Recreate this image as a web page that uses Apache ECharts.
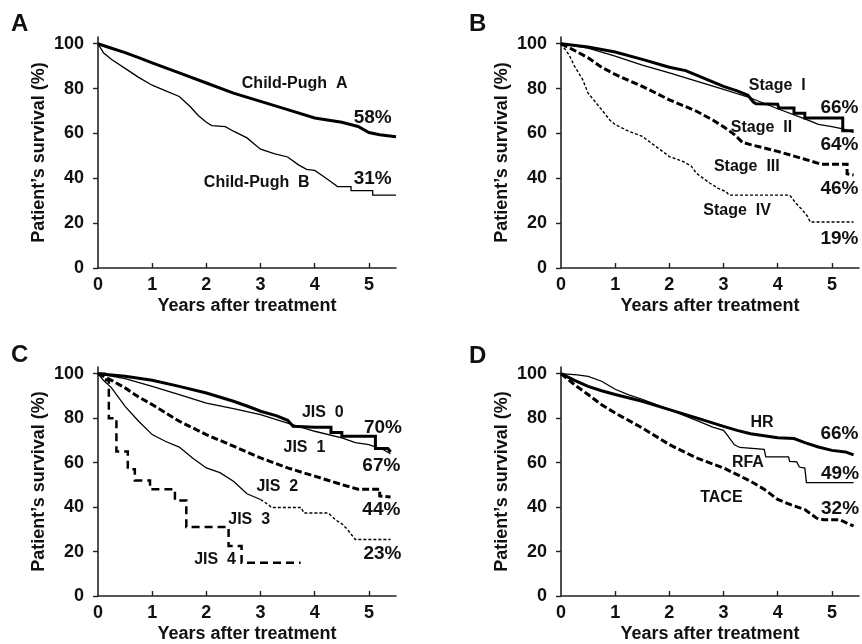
<!DOCTYPE html>
<html>
<head>
<meta charset="utf-8">
<script src="https://cdn.jsdelivr.net/npm/echarts@6/dist/echarts.min.js"></script>
<style>
  html, body { margin: 0; padding: 0; background: #fff; }
  #chart { width: 862px; height: 644px; }
</style>
</head>
<body>
<div id="chart"></div>
<script>
// tick values
const xTicks = [0, 1, 2, 3, 4, 5];
const yTicks = [0, 20, 40, 60, 80, 100];

// A: Child-Pugh
const childPughA = [[0,100],[0.25,98],[0.5,96],[0.75,93.8],[1,91.5],[1.5,87],[2,82.5],[2.5,78],[3,74.3],[3.5,70.6],[4,66.9],[4.5,65],[4.8,63.1],[5,60.4],[5.2,59.4],[5.5,58.5]];
const childPughB = [[0,100],[0.1,96],[0.25,93],[0.5,89],[0.75,85],[1,81.5],[1.25,79],[1.5,76.5],[1.7,72],[1.85,68],[2,65],[2.1,63.5],[2.35,63],[2.5,61],[2.75,58],[2.9,55],[3,53],[3.25,51],[3.5,49.5],[3.7,46],[3.85,44],[4,43.5],[4.15,41],[4.3,38.5],[4.42,36.3],[4.67,36.3],[4.67,34.5],[5.07,34.5],[5.07,32.5],[5.5,32.5]];

// B: Stage
const stageI = [[0,100],[0.5,98.5],[1,96.3],[1.5,93],[2,89.5],[2.3,88],[2.5,86],[2.8,83],[3,81],[3.25,79],[3.45,77],[3.55,74],[3.6,73.2],[4,73],[4.02,71.3],[4.3,71.3],[4.3,69],[4.5,69],[4.5,66.9],[5.2,66.9],[5.2,61.2],[5.4,61.2]];
const stageII = [[0,100],[0.5,98],[1,94.5],[1.5,90.5],[2,87],[2.5,83.3],[3,79.6],[3.5,75.8],[4,71],[4.5,66.5],[4.75,64],[5,63],[5.2,62],[5.4,60.5]];
const stageIII = [[0,100],[0.25,97],[0.5,93.7],[0.75,89.5],[1,86.3],[1.5,81],[2,75],[2.5,69.9],[2.8,66],[3,63],[3.2,59.5],[3.35,56],[3.5,55],[4,52],[4.5,48.5],[4.8,46.3],[5.28,46.3],[5.28,42],[5.4,41.5]];
const stageIV = [[0,100],[0.15,95],[0.25,90],[0.4,84],[0.5,78],[0.75,70.6],[0.9,66],[1,63.9],[1.25,61],[1.5,58.7],[1.75,54.2],[2,49.7],[2.25,47.5],[2.4,45.5],[2.5,42.2],[2.75,37.8],[2.9,35.5],[3.05,34],[3.1,32.5],[4.22,32.5],[4.35,28.5],[4.45,26],[4.55,23],[4.6,20.5],[5.4,20.5]];

// C: JIS score
const jis0 = [[0,100],[0.5,98.8],[1,97],[1.5,94.3],[2,91.3],[2.5,87.6],[2.8,85],[3,83.1],[3.3,81],[3.5,79],[3.6,76.3],[4,75.9],[4.3,75.9],[4.3,73.5],[4.5,73.5],[4.5,71.9],[5.12,71.9],[5.12,66.3],[5.35,66.3],[5.4,64.8]];
const jis1 = [[0,100],[0.5,97.8],[1,94.3],[1.5,90.6],[2,86.8],[2.5,84.3],[3,81.6],[3.5,77.8],[4,74.1],[4.5,71.1],[4.75,69],[5,68.1],[5.25,66],[5.4,64]];
const jis2 = [[0,100],[0.25,97],[0.5,93.6],[0.75,89.5],[1,86.1],[1.5,78.6],[2,72.6],[2.5,67.4],[3,62.1],[3.5,57.6],[4,53.9],[4.5,50.1],[4.8,48],[5.2,48],[5.2,45],[5.4,44.5]];
const jis3Early = [[0,100],[0.1,97],[0.25,93.6],[0.5,85.3],[0.75,78.6],[1,72.6],[1.25,69.5],[1.5,67],[1.75,62],[2,57.6],[2.25,55.5],[2.5,51.6],[2.75,46],[3,43.4]];
const jis3Late = [[3,43.4],[3.15,41],[3.2,39.8],[3.75,39.8],[3.8,37.3],[4.25,37.3],[4.4,34],[4.5,32.5],[4.6,30],[4.75,25.4],[5.4,25.4]];
const jis4 = [[0,100],[0.15,100],[0.15,97],[0.2,97],[0.2,80],[0.34,80],[0.34,65],[0.55,65],[0.55,57],[0.68,57],[0.68,52],[0.96,52],[0.96,48],[1.42,48],[1.42,43],[1.63,43],[1.63,31],[2.41,31],[2.41,22.5],[2.65,22.5],[2.65,15],[3.74,15]];

// D: treatment
const hr = [[0,100],[0.25,97],[0.5,94.3],[0.75,92.3],[1,90.6],[1.5,87.6],[2,83.8],[2.5,80.1],[3,76.3],[3.25,74.5],[3.5,73],[4,71.2],[4.3,70.8],[4.5,69],[4.75,67],[5,65.5],[5.25,64.8],[5.4,63.5]];
const rfa = [[0,100],[0.3,99.5],[0.5,98.8],[0.75,96.6],[1,93],[1.25,90.5],[1.5,88.5],[2,83.8],[2.5,79],[2.8,76],[3,74.5],[3.08,72],[3.2,68],[3.3,66.8],[3.75,66],[3.78,62.6],[4.2,62.6],[4.22,60.5],[4.35,60.3],[4.4,58],[4.5,57.5],[4.53,51],[5.4,51]];
const tace = [[0,100],[0.25,95],[0.5,90.6],[0.75,86],[1,82.3],[1.5,75.6],[2,68.1],[2.5,62.1],[3,57.6],[3.5,51.6],[3.75,48],[4,43.4],[4.25,41],[4.5,38.9],[4.72,35],[4.85,34.3],[5.15,34.3],[5.3,32.5],[5.4,31.5]];

// curve labels, placed in data coordinates
const labelsA = [['Child-Pugh  A', 3.63, 82.1], ['58%', 5.07, 67.2], ['Child-Pugh  B', 2.93, 37.9], ['31%', 5.07, 39.6]];
const labelsB = [['Stage  I', 3.99, 81.3], ['66%', 5.14, 71.6], ['Stage  II', 3.7, 62.7], ['64%', 5.14, 54.9], ['Stage  III', 3.43, 45.2], ['46%', 5.14, 35.5], ['Stage  IV', 3.25, 25.8], ['19%', 5.14, 13.1]];
const labelsC = [['JIS  0', 4.15, 82.6], ['70%', 5.26, 75.6], ['JIS  1', 3.81, 66.8], ['67%', 5.23, 58.8], ['JIS  2', 3.31, 49.4], ['44%', 5.23, 38.9], ['JIS  3', 2.79, 34.4], ['23%', 5.25, 19.2], ['JIS  4', 2.16, 16.2]];
const labelsD = [['HR', 3.71, 77.8], ['66%', 5.14, 72.8], ['RFA', 3.45, 60.2], ['49%', 5.15, 54.8], ['TACE', 2.96, 44.3], ['32%', 5.15, 39.2]];

const FONT = '"Liberation Sans", Arial, sans-serif';
const thick = { width: 3, type: 'solid' };
const thin = { width: 1.3, type: 'solid' };
const thickDash = { width: 3, type: [7, 3] };
const thinDot = { width: 1.4, type: [3, 2] };
const jis4Dash = { width: 2.5, type: [8, 5] };

const panels = [
  { letter: 'A', labels: labelsA, curves: [[childPughA, thick], [childPughB, thin]] },
  { letter: 'B', labels: labelsB, curves: [[stageI, thick], [stageII, thin], [stageIII, thickDash], [stageIV, thinDot]] },
  { letter: 'C', labels: labelsC, curves: [[jis0, thick], [jis1, thin], [jis2, thickDash], [jis3Early, thin], [jis3Late, thinDot], [jis4, jis4Dash]] },
  { letter: 'D', labels: labelsD, curves: [[hr, thick], [rfa, thin], [tace, thickDash]] },
];

const grids = [
  { left: 98, top: 37, width: 298, height: 231 },
  { left: 561, top: 37, width: 298, height: 231 },
  { left: 98, top: 367, width: 298, height: 230 },
  { left: 561, top: 367, width: 298, height: 230 },
];
const letterPos = [[11, 12], [469, 12], [11, 343], [469, 344]];

const axisText = { fontFamily: FONT, fontSize: 18, fontWeight: 'bold', color: '#111' };

const xAxes = [], yAxes = [], series = [], titles = [];
panels.forEach((p, i) => {
  xAxes.push({
    type: 'value', gridIndex: i, min: 0, max: 5.5,
    name: 'Years after treatment', nameLocation: 'middle', nameGap: 29,
    nameTextStyle: axisText,
    axisLine: { show: true, onZero: false, lineStyle: { color: '#222', width: 1.6 } },
    axisTick: { show: true, inside: true, length: 5, customValues: xTicks.slice(1), lineStyle: { color: '#222', width: 1.4 } },
    axisLabel: Object.assign({ customValues: xTicks, margin: 8 }, axisText),
    splitLine: { show: false },
  });
  yAxes.push({
    type: 'value', gridIndex: i, min: 0, max: 103,
    name: 'Patient\u2019s survival (%)', nameLocation: 'middle', nameGap: 50,
    nameTextStyle: axisText,
    axisLine: { show: true, lineStyle: { color: '#222', width: 1.6 } },
    axisTick: { show: true, inside: false, length: 5, customValues: yTicks, lineStyle: { color: '#222', width: 1.4 } },
    axisLabel: Object.assign({ customValues: yTicks, margin: 14 }, axisText),
    splitLine: { show: false },
  });
  titles.push({
    text: p.letter, left: letterPos[i][0], top: letterPos[i][1], padding: 0,
    textStyle: { fontFamily: FONT, fontSize: 24, fontWeight: 'bold', color: '#111' },
  });
  p.curves.forEach(([data, style]) => {
    series.push({
      type: 'line', xAxisIndex: i, yAxisIndex: i, data: data,
      showSymbol: false, symbol: 'none', silent: true,
      lineStyle: { color: '#000', width: style.width, type: style.type, cap: 'butt', join: 'miter' },
    });
  });
  series.push({
    type: 'scatter', xAxisIndex: i, yAxisIndex: i, symbolSize: 0, silent: true, z: 5,
    itemStyle: { opacity: 1 },
    data: p.labels.map(l => ({
      value: [l[1], l[2]], name: l[0],
      label: { fontSize: l[0].indexOf('%') >= 0 ? 19 : 16 },
    })),
    label: {
      show: true, position: 'inside', formatter: '{b}',
      fontFamily: FONT, fontWeight: 'bold', color: '#111', opacity: 1,
    },
  });
});

const chart = echarts.init(document.getElementById('chart'), null, { renderer: 'canvas' });
chart.setOption({
  animation: false,
  backgroundColor: '#fff',
  title: titles,
  grid: grids,
  xAxis: xAxes,
  yAxis: yAxes,
  series: series,
});
</script>
</body>
</html>
